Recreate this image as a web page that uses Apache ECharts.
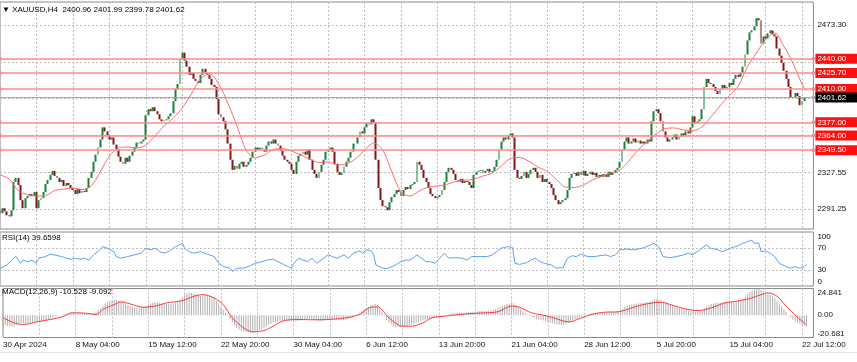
<!DOCTYPE html>
<html><head><meta charset="utf-8">
<script src="https://cdn.jsdelivr.net/npm/echarts@6/dist/echarts.min.js"></script>
<style>html,body{margin:0;padding:0;background:#fff;}#c{width:857px;height:362px;}</style>
</head><body><div id="c"></div>
<script>
const symbolName = 'XAUUSD,H4';
const lastOHLC = [2400.96, 2401.99, 2399.78, 2401.62];
const firstOpen = 2290;
const closes = [2287,
2292,2289,2285,2284,2290,2318, 2322,2315,2300,2292,2302,2304, 2306,2304,2308,2292,2300,2302,
2308,2316,2320,2325,2329,2324, 2322,2318,2320,2314,2317,2315, 2312,2310,2306,2311,2307,2309,
2308,2312,2322,2328,2338,2345, 2352,2360,2372,2368,2364,2360, 2362,2355,2350,2343,2338,2336,
2342,2338,2344,2348,2352,2357, 2356,2358,2360,2384,2390,2388, 2392,2388,2385,2380,2378,2379,
2380,2383,2386,2398,2410,2415, 2440,2446,2438,2432,2424,2426, 2420,2418,2416,2424,2430,2426,
2424,2420,2414,2412,2400,2385, 2382,2378,2370,2356,2340,2330, 2334,2331,2336,2338,2333,2335,
2338,2342,2348,2352,2350,2352, 2350,2348,2354,2358,2356,2360, 2356,2354,2349,2344,2340,2338,
2336,2330,2326,2338,2344,2346, 2348,2345,2350,2340,2330,2326, 2322,2328,2335,2340,2348,2350,
2352,2348,2336,2328,2325,2327, 2333,2338,2342,2348,2356,2356, 2362,2368,2366,2372,2376,2375,
2380,2377,2340,2312,2300,2294, 2293,2290,2298,2303,2306,2310, 2308,2304,2310,2313,2311,2315,
2316,2318,2338,2335,2330,2322, 2318,2312,2306,2304,2302,2303, 2305,2310,2318,2328,2332,2330,
2326,2320,2318,2321,2317,2319, 2318,2315,2312,2325,2328,2329, 2330,2327,2329,2331,2328,2329,
2333,2340,2350,2358,2362,2360, 2364,2366,2362,2330,2322,2321, 2324,2328,2322,2326,2330,2332,
2328,2322,2325,2318,2321,2318, 2316,2312,2305,2300,2296,2298, 2300,2302,2310,2322,2326,2327,
2324,2328,2325,2329,2324,2326, 2328,2325,2327,2323,2325,2323, 2326,2323,2328,2325,2327,2330,
2332,2338,2350,2358,2362,2356, 2358,2361,2357,2359,2356,2358, 2356,2360,2358,2378,2388,2390,
2386,2378,2368,2362,2358,2360, 2362,2365,2360,2363,2366,2364, 2368,2366,2372,2383,2376,2378,
2380,2390,2412,2420,2416,2415, 2412,2408,2405,2410,2414,2411, 2412,2416,2414,2420,2424,2422,
2426,2432,2444,2458,2466,2468, 2472,2480,2478,2455,2462,2460, 2465,2468,2464,2462,2450,2443,
2436,2428,2420,2412,2402,2401, 2406,2403,2394,2398,2400.96,2401.62];
const highs = [2292,
2294,2293,2291,2288,2292,2326, 2326,2324,2317,2302,2305,2307, 2309,2308,2311,2319,2303,2305,
2310,2318,2323,2328,2331,2331, 2326,2324,2323,2322,2319,2319, 2317,2315,2312,2314,2313,2312,
2312,2315,2324,2331,2340,2348, 2355,2363,2378,2374,2370,2367, 2366,2364,2357,2352,2346,2341,
2344,2343,2346,2351,2355,2359, 2359,2361,2362,2387,2394,2393, 2396,2400,2391,2388,2384,2382,
2383,2386,2388,2400,2412,2418, 2442,2450,2449,2440,2434,2428, 2427,2423,2421,2426,2433,2432,
2429,2427,2422,2417,2414,2402, 2388,2385,2380,2372,2358,2342, 2336,2336,2339,2342,2340,2338,
2341,2344,2350,2355,2354,2355, 2354,2352,2356,2362,2361,2364, 2362,2358,2357,2351,2347,2343,
2340,2338,2332,2340,2347,2349, 2351,2350,2358,2352,2342,2333, 2328,2330,2337,2343,2351,2354,
2355,2354,2350,2338,2331,2330, 2335,2340,2345,2351,2358,2360, 2364,2370,2370,2375,2380,2379,
2387,2383,2379,2342,2315,2303, 2298,2296,2300,2305,2309,2312, 2312,2310,2312,2316,2316,2318,
2318,2320,2342,2341,2338,2333, 2324,2320,2314,2309,2306,2306, 2307,2312,2320,2331,2335,2334,
2332,2328,2323,2324,2324,2322, 2322,2320,2317,2327,2331,2332, 2333,2332,2331,2334,2333,2331,
2335,2342,2352,2360,2365,2364, 2366,2368,2368,2363,2334,2327, 2327,2331,2330,2329,2333,2335,
2334,2330,2328,2327,2324,2323, 2320,2318,2314,2307,2302,2300, 2302,2304,2312,2324,2328,2329,
2329,2330,2331,2340,2330,2328, 2331,2330,2330,2328,2328,2327, 2328,2327,2330,2330,2329,2332,
2334,2340,2352,2360,2365,2364, 2360,2363,2363,2361,2361,2360, 2360,2362,2362,2382,2391,2393,
2393,2388,2380,2370,2364,2363, 2364,2367,2367,2365,2368,2368, 2370,2370,2374,2386,2385,2380,
2382,2392,2416,2424,2422,2419, 2417,2414,2410,2413,2418,2416, 2415,2418,2419,2441,2428,2426,
2428,2434,2446,2460,2469,2470, 2474,2483,2484,2478,2465,2466, 2470,2472,2470,2467,2464,2452,
2446,2438,2430,2422,2414,2406, 2408,2409,2405,2401,2403,2401.99];
const lows = [2284,
2285,2286,2282,2280,2283,2288, 2315,2312,2298,2288,2290,2299, 2302,2301,2302,2277,2290,2297,
2300,2306,2313,2318,2322,2321, 2319,2315,2316,2310,2312,2311, 2309,2306,2303,2304,2304,2305,
2305,2306,2310,2320,2326,2336, 2343,2350,2358,2364,2358,2356, 2357,2352,2346,2339,2335,2334,
2335,2336,2337,2342,2346,2350, 2354,2355,2356,2358,2381,2384, 2386,2386,2380,2376,2375,2376,
2376,2377,2381,2384,2396,2406, 2415,2436,2435,2428,2410,2420, 2418,2414,2412,2415,2422,2423,
2421,2417,2411,2408,2398,2381, 2379,2375,2366,2352,2337,2326, 2327,2328,2330,2333,2330,2331,
2333,2337,2340,2346,2347,2348, 2347,2345,2346,2352,2353,2354, 2353,2351,2346,2340,2336,2335,
2333,2327,2322,2324,2336,2341, 2343,2342,2343,2337,2326,2322, 2316,2320,2326,2333,2338,2345,
2347,2345,2333,2320,2317,2322, 2325,2330,2335,2340,2346,2352, 2354,2360,2363,2364,2370,2372,
2373,2374,2336,2305,2289,2286, 2287,2286,2288,2296,2300,2304, 2305,2301,2303,2307,2308,2309,
2312,2314,2316,2331,2326,2313, 2315,2309,2303,2300,2299,2299, 2300,2302,2308,2316,2325,2327,
2323,2317,2315,2314,2313,2315, 2315,2312,2308,2310,2322,2325, 2326,2324,2325,2327,2326,2326,
2327,2331,2338,2348,2355,2357, 2358,2362,2358,2326,2316,2317, 2318,2322,2319,2320,2324,2327,
2326,2319,2320,2315,2316,2315, 2313,2309,2302,2297,2293,2294, 2295,2297,2300,2308,2319,2323,
2321,2322,2322,2323,2320,2322, 2324,2322,2323,2319,2320,2319, 2321,2319,2321,2322,2322,2325,
2327,2330,2336,2348,2355,2353, 2354,2356,2355,2355,2354,2354, 2353,2354,2355,2352,2376,2385,
2383,2375,2366,2358,2353,2356, 2357,2359,2357,2358,2361,2361, 2362,2363,2364,2370,2374,2373,
2375,2378,2388,2408,2412,2411, 2408,2404,2398,2402,2407,2408, 2406,2409,2410,2412,2418,2418,
2420,2424,2430,2442,2455,2463, 2464,2470,2472,2452,2454,2456, 2458,2462,2460,2458,2446,2439,
2432,2425,2417,2408,2398,2396, 2398,2399,2384,2390,2395,2399.78];
const tickLabels = ['30 Apr 2024','8 May 04:00','15 May 12:00','22 May 20:00','30 May 04:00','6 Jun 12:00',
'13 Jun 20:00','21 Jun 04:00','28 Jun 12:00','5 Jul 20:00','15 Jul 04:00','22 Jul 12:00'];
const priceTicks = [2291.25, 2327.55, 2364.00, 2400.45, 2436.90, 2473.30];
const levels = [2440.00, 2425.70, 2410.00, 2377.00, 2364.00, 2349.50];
const maLine = [[0,2324.9],[4,2321],[8,2309.3],[12,2305.6],[16,2304.1],[20,2304.6],[24,2309.5],[28,2311],[32,2312],[36,2310.5],
[40,2314],[44,2327.9],[48,2343.7],[52,2351.6],[56,2352.6],[60,2351.6],[64,2354.6],[68,2363.5],[72,2373.4],[76,2381.3],
[80,2391.2],[84,2405],[88,2419.9],[92,2425.3],[96,2414.9],[100,2396.1],[104,2373.4],[108,2349.6],[112,2341.7],[116,2344.7],
[120,2350.1],[124,2351.1],[128,2348.6],[132,2344.7],[136,2340.7],[140,2337.3],[144,2337.8],[148,2334.8],[152,2335.8],[156,2340.7],
[160,2349.6],[164,2356.5],[168,2349.6],[172,2327.9],[176,2308.1],[180,2304.1],[184,2309.1],[188,2313],[192,2314],[196,2315.5],
[200,2318.5],[204,2319.5],[208,2320.9],[212,2323.9],[216,2326.9],[220,2333.8],[224,2341.2],[228,2342.2],[232,2338.7],[236,2332.8],
[240,2328.8],[244,2320.9],[248,2313],[252,2312.5],[256,2315],[260,2319.9],[264,2323.4],[268,2326.9],[272,2329.8],[276,2338.7],
[280,2349.6],[284,2357.5],[288,2365.5],[292,2370.9],[296,2371.4],[300,2369.4],[304,2368.9],[308,2372.4],[312,2382.3],[316,2393.2],
[320,2403.1],[324,2413],[328,2431.7],[332,2445.6],[336,2458.5],[340,2465.4],[344,2452.5],[348,2435.7],[352,2414.9],[354,2408]];
const rsiLine = [[0,33],[3,39],[6,51.5],[7,54.5],[9,42],[10,48],[12,45],[14,48],[16,42],[17,51.5],[20,54.5],[22,59],[25,56.5],
[27,54.5],[29,51.5],[31,49.5],[33,51.5],[35,49.5],[37,51.5],[39,48],[41,57.6],[43,63.7],[45,73],[47,70],[50,63.7],[51,54.5],
[53,51.5],[56,54.5],[59,57.6],[62,60.7],[64,70],[66,67],[68,70],[70,63.7],[72,60.7],[74,63.7],[77,73],[80,79],[81,70],[83,63.7],
[85,60.7],[88,63.7],[91,59],[94,54.5],[96,42],[98,36],[101,33],[102,27],[104,33],[107,33],[110,38],[112,42],[115,45],[117,48],
[120,49.5],[122,45],[125,39],[128,33],[129,42],[131,51.5],[133,48],[135,45],[137,51.5],[139,42],[142,51.5],[144,57.6],[146,54.5],
[148,51.5],[151,57.6],[153,51.5],[155,60.7],[158,65],[159,60.7],[161,67],[163,65],[164,57.6],[165,39],[168,33],[170,32],[172,36],
[174,40],[176,45],[178,48],[180,48],[183,57.6],[185,51.5],[187,45],[189,45],[191,42],[193,51.5],[195,60.7],[197,51.5],[200,52.5],
[203,51.5],[205,48],[207,54.5],[211,54.5],[214,54.5],[216,57.6],[218,63.7],[220,70],[223,73],[225,71],[226,42],[228,40],[231,43],
[233,48],[235,51.5],[237,45],[239,42],[242,39],[244,33],[246,34],[247,33],[249,51.5],[251,56],[253,54.5],[255,59],[258,54.5],
[261,54.5],[263,56],[266,57.6],[268,54.5],[270,57.6],[272,67],[275,68.5],[278,67],[280,68.5],[282,70],[285,75],[287,79],[289,73],
[291,54.5],[294,52.5],[297,54.5],[300,57.6],[302,60.7],[304,57.6],[307,67],[309,73],[310,76],[312,70],[315,67],[317,63.7],[319,67],
[321,71],[323,73],[326,79],[328,82],[330,85],[331,79],[333,80],[334,63.7],[336,65],[338,60.7],[340,54.5],[342,42],[345,36],[347,33],
[349,36],[351,33],[353,36],[354,39.66]];
const rsiTicks = [30, 70];
const rsiTop = 100;
const rsiBottom = 0;
const macdHist = [-9.0,-9.4,-9.9,-10.3,-10.6,-10.4, -8.8,-7.6,-7.2,-7.6,-8.0,-7.6, -7.1,-6.6,-6.0,-5.6,-6.2,-5.8,
-5.1,-4.5,-3.8,-3.0,-2.0,-1.0, -0.6,0.0,0.4,1.0,1.6,2.1, 2.4,2.5,2.6,2.4,2.1,1.9, 1.6,1.2,1.1,1.4,2.0,3.5,
5.0,6.8,8.8,11.0,12.6,13.5, 14.0,14.4,14.2,13.6,12.8,11.8, 10.6,9.6,8.6,8.0,7.4,7.0, 7.2,7.6,8.0,8.6,10.0,11.2,
11.8,12.2,12.0,11.6,11.0,10.6, 10.4,10.4,10.6,11.0,11.6,12.6, 14.6,17.0,19.0,20.4,20.8,20.6, 20.0,19.4,18.8,18.4,18.6,18.8,
18.6,18.0,17.2,15.8,13.4,10.8, 7.6,5.0,2.4,-0.6,-3.6,-6.6, -9.4,-11.6,-13.2,-14.4,-15.2,-15.8, -16.2,-16.4,-16.2,-15.8,-15.0,-14.0,
-12.8,-11.6,-10.4,-9.2,-8.0,-7.0, -6.2,-5.6,-5.2,-5.0,-5.0,-5.2, -5.4,-5.6,-5.8,-5.6,-5.2,-4.8, -4.4,-4.0,-3.8,-3.8,-4.0,-4.4,
-5.0,-5.4,-5.4,-5.0,-4.6,-4.2, -3.8,-3.6,-3.6,-4.0,-4.4,-4.6, -4.4,-4.2,-3.8,-3.0,-2.0,-0.8, 0.6,2.2,3.8,5.4,6.8,8.0,
9.0,9.8,10.4,9.4,6.2,2.6, -1.0,-4.2,-6.8,-8.6,-9.8,-10.4, -10.8,-11.0,-11.0,-10.8,-10.4,-9.8, -9.0,-8.2,-7.2,-6.0,-5.2,-4.6,
-4.2,-3.8,-3.4,-3.0,-2.6,-2.4, -2.0,-1.6,-1.0,-0.2,0.6,1.2, 1.6,1.8,2.0,2.2,2.2,2.4, 2.6,2.8,3.0,3.2,3.4,3.6,
3.8,4.0,4.0,4.2,4.4,4.6, 5.0,5.6,6.4,7.4,8.6,9.6, 10.4,11.0,11.4,11.2,9.6,7.4, 5.4,3.6,2.0,0.6,-0.6,-1.6,
-2.4,-3.2,-3.8,-4.4,-5.0,-5.6, -6.2,-6.8,-7.4,-8.0,-8.4,-8.8, -9.0,-8.8,-8.2,-7.2,-6.0,-4.8, -3.8,-3.0,-2.2,-1.4,-0.6,0.2,
0.8,1.4,1.8,2.2,2.4,2.6, 2.6,2.6,2.6,2.8,2.8,3.0, 3.2,3.8,4.8,6.2,7.6,8.8, 9.6,10.2,10.6,11.0,11.2,11.4,
11.6,11.8,12.0,12.8,13.8,14.6, 14.8,14.4,13.6,12.6,11.6,10.6, 9.8,9.0,8.2,7.4,6.6,6.0, 5.4,4.8,4.2,3.8,3.6,3.4,
3.4,3.6,4.6,6.4,8.2,9.4, 10.4,11.0,11.4,11.6,11.8,11.8, 11.8,11.8,12.0,12.2,12.6,13.0, 13.4,14.0,15.4,17.4,19.6,21.6,
23.0,24.0,24.4,24.4,23.4,22.4, 21.2,20.0,18.8,17.4,15.8,13.6, 11.2,8.6,5.8,3.0,0.2,-2.2, -4.2,-5.6,-6.8,-8.0,-9.0,-9.8,
-10.528];
const macdSignal = [[0,-2.4],[5,-7.1],[9,-8.6],[15,-6.1],[21,-3.9],[27,-0.8],[30,2.2],[34,2.2],[39,1.3],[41,0.6],[44,5.3],
[49,9.9],[52,12.4],[56,10.5],[62,7.4],[68,9.0],[72,11.4],[79,13.6],[84,17.6],[88,19.2],[93,16.1],[97,9.9],[101,-2.4],[106,-11.7],
[110,-15.4],[115,-14.2],[119,-10.2],[123,-5.5],[129,-3.9],[136,-4.2],[144,-3.9],[151,-2.4],[157,0.6],[161,6.8],[165,7.8],[170,-2.4],
[176,-10.2],[180,-10.2],[185,-7.1],[189,-2.4],[195,-0.8],[204,1.3],[212,2.2],[218,3.2],[224,8.5],[227,7.8],[233,2.2],[240,-0.8],
[247,-5.5],[250,-6.1],[253,-3.9],[259,0.6],[265,2.8],[271,3.2],[277,6.8],[282,9.9],[290,12.1],[294,9.9],[300,6.2],[306,4.3],
[312,6.8],[318,11.5],[323,13],[329,15.5],[334,19.2],[337,20.8],[341,17.6],[345,8.5],[350,-1.8],[354,-9.092]];
const macdTicks = [-20.681, 0, 24.841];
const rsiText = 'RSI(14) 39.6598';
const macdText = 'MACD(12,26,9) -10.528 -9.092';

const FONT = "'Liberation Sans', Arial, sans-serif";
const FS = 8;
const N = 358;
const cats = Array.from({length: N}, (_, i) => String(i));
const opens = closes.map((c, i) => i === 0 ? firstOpen : closes[i - 1]);
const bodies = closes.map((c, i) => { const o = opens[i]; return [o, c, Math.min(o, c), Math.max(o, c)]; });
const wicks = closes.map((c, i) => { const o = opens[i]; const lo = Math.min(lows[i], o, c), hi = Math.max(highs[i], o, c); return [lo, hi, lo, hi]; });

const L = -1.3, W = 814.7;
const RSI_TOP = 232;
const dotted = {color: '#bdbdbd', width: 1, type: [2, 2]};
const txt = {fontSize: FS, fontFamily: FONT, color: '#111'};
const mkX = (gi, withLabels) => ({
  type: 'category', gridIndex: gi, data: cats, boundaryGap: false,
  axisLine: {show: false}, axisTick: {show: false},
  splitLine: {show: true, interval: (i) => i % 16 === 0, lineStyle: dotted},
  axisLabel: withLabels ? Object.assign({
    show: true, interval: (i) => i % 32 === 0, formatter: (v, i) => tickLabels[i / 32] || '',
    align: 'left', margin: 3, hideOverlap: false
  }, txt) : {show: false}
});
const endAxis = (gi, val, min, max, va, fmt) => ({
  type: 'value', gridIndex: gi, position: 'right', min: min, max: max,
  axisLine: {show: false}, axisTick: {show: false, customValues: [val]}, splitLine: {show: false},
  axisLabel: Object.assign({customValues: [val], margin: 4, hideOverlap: false, showMinLabel: true, showMaxLabel: true,
    verticalAlign: va, formatter: () => fmt(val)}, txt)
});
const plainTitle = (text, left, top) => ({text: text, left: left, top: top, padding: 0, z: 20,
  textStyle: Object.assign({fontWeight: 'normal'}, txt, {color: '#000'})});

const chart = echarts.init(document.getElementById('c'), null, {renderer: 'canvas'});
chart.setOption({
  animation: false,
  backgroundColor: '#ffffff',
  title: [
    plainTitle('\u25BC ' + symbolName + '  ' + lastOHLC.map(v => v.toFixed(2)).join(' '), 2, 6),
    plainTitle(rsiText, 2, 234),
    plainTitle(macdText, 2, 288),
    plainTitle(String(rsiTop), L + W + 4, RSI_TOP + 1)
  ],
  grid: [
    {left: L, width: W, top: 2, height: 227, show: true, borderColor: '#8a8a8a', borderWidth: 1},
    {left: L, width: W, top: RSI_TOP, height: 54, show: true, borderColor: '#8a8a8a', borderWidth: 1},
    {left: L, width: W, top: 288.5, height: 49, show: true, borderColor: '#8a8a8a', borderWidth: 1}
  ],
  xAxis: [mkX(0, false), mkX(1, false), mkX(2, true)],
  yAxis: [
    {type: 'value', gridIndex: 0, position: 'right', min: 2271.46, max: 2496.06,
     axisLine: {show: false}, axisTick: {show: false, customValues: priceTicks},
     splitLine: {show: true, lineStyle: dotted},
     axisLabel: Object.assign({customValues: priceTicks, formatter: v => v.toFixed(2), margin: 4, hideOverlap: false}, txt)},
    {type: 'value', gridIndex: 1, position: 'right', min: 0, max: 100,
     axisLine: {show: false}, axisTick: {show: false, customValues: rsiTicks},
     splitLine: {show: true, lineStyle: dotted},
     axisLabel: Object.assign({customValues: rsiTicks, margin: 4, hideOverlap: false}, txt)},
    endAxis(1, rsiBottom, 0, 100, 'bottom', v => String(v)),
    {type: 'value', gridIndex: 2, position: 'right', min: macdTicks[0], max: macdTicks[2],
     axisLine: {show: false}, axisTick: {show: false, customValues: [0]}, splitLine: {show: false},
     axisLabel: Object.assign({customValues: [0], margin: 4, hideOverlap: false, formatter: v => v.toFixed(2)}, txt)},
    endAxis(2, macdTicks[2], macdTicks[0], macdTicks[2], 'top', v => v.toFixed(3)),
    endAxis(2, macdTicks[0], macdTicks[0], macdTicks[2], 'bottom', v => v.toFixed(3))
  ],
  series: [
    {type: 'candlestick', name: 'wick', xAxisIndex: 0, yAxisIndex: 0, data: wicks, barWidth: 1,
     itemStyle: {color: '#a0a0a0', color0: '#a0a0a0', borderColor: '#a0a0a0', borderColor0: '#a0a0a0', borderWidth: 0}, z: 2},
    {type: 'candlestick', name: 'body', xAxisIndex: 0, yAxisIndex: 0, data: bodies, barWidth: 2.4,
     itemStyle: {color: '#1c7f3e', color0: '#7e1818', borderColor: '#1c7f3e', borderColor0: '#7e1818', borderWidth: 0}, z: 3,
     markLine: {
       silent: true, animation: false, symbol: ['circle', 'circle'], symbolSize: 4, precision: 2,
       lineStyle: {color: '#ff8a8a', width: 1.5, type: 'solid'},
       label: Object.assign({show: true, position: 'end', distance: 2, formatter: p => Number(p.value).toFixed(2),
               backgroundColor: '#ff1010', padding: [1, 12, 1, 2]}, txt, {color: '#fff'}),
       data: levels.map(v => ({yAxis: v})).concat([{yAxis: lastOHLC[3], symbol: 'none',
         lineStyle: {color: '#a8a8a8', width: 1, type: 'solid'}, label: {backgroundColor: '#000'}}])
     }},
    {type: 'line', name: 'MA', xAxisIndex: 0, yAxisIndex: 0, data: maLine, showSymbol: false, smooth: 0.3,
     lineStyle: {color: '#ff6b6b', width: 1}, z: 4},
    {type: 'line', name: 'RSI', xAxisIndex: 1, yAxisIndex: 1, data: rsiLine, showSymbol: false,
     lineStyle: {color: '#5aa0f2', width: 1}},
    {type: 'bar', name: 'MACD', xAxisIndex: 2, yAxisIndex: 3, data: macdHist, barWidth: 1,
     itemStyle: {color: '#b0b0b0'}},
    {type: 'line', name: 'Signal', xAxisIndex: 2, yAxisIndex: 3, data: macdSignal, showSymbol: false, smooth: 0.3,
     lineStyle: {color: '#ff3a3a', width: 1}}
  ],
  graphic: [{type: 'line', shape: {x1: 0, y1: 352.5, x2: 857, y2: 352.5}, style: {stroke: '#e2e2e2', lineWidth: 1}}]
});
</script></body></html>
